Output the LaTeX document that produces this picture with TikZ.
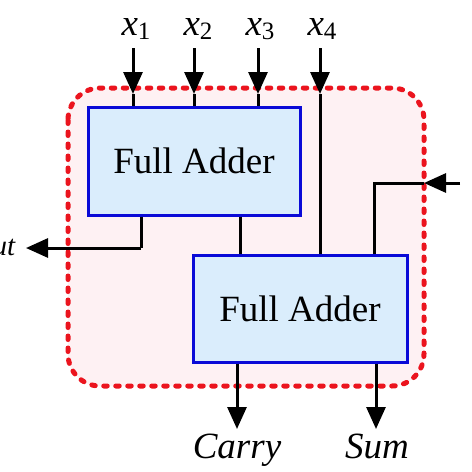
\documentclass[tikz,border=0pt]{standalone}
\usepackage{fontspec}
\setmainfont{Liberation Serif}
\usetikzlibrary{arrows.meta}
\definecolor{boxfill}{RGB}{218,237,252}
\definecolor{boxline}{RGB}{10,10,215}
\definecolor{bgpink}{RGB}{254,241,243}
\definecolor{dashred}{RGB}{235,20,30}
\newcommand\lbl[3][25]{\textit{#2}\raisebox{-0.12em}{\fontsize{#1}{#1}\selectfont #3}}
\tikzset{
  fabox/.style={draw=boxline, line width=3pt, fill=boxfill, inner sep=0pt,
    font=\fontsize{37}{40}\selectfont},
  wire/.style={line width=3pt, black},
  arr/.style={wire, -{Triangle[length=22pt,width=19pt]}},
  lab/.style={inner sep=0pt, font=\fontsize{37}{40}\selectfont},
}
\begin{document}
\begin{tikzpicture}[x=1pt,y=-1pt]
\useasboundingbox (0,0) rectangle (472,472);
\fill[white] (0,0) rectangle (472,472);
% dashed region
\draw[dashred, fill=bgpink, line width=5pt, line cap=round,
  dash pattern=on 3.5pt off 8.5pt, rounded corners=32pt]
  (68,88) rectangle (424,386);
% boxes
\node[fabox, minimum width=212pt, minimum height=108pt] (fa1) at (194,161) {Full Adder};
\node[fabox, minimum width=214pt, minimum height=107pt] (fa2) at (300,308.5) {Full Adder};
% input labels
\node[lab, anchor=base] (l1) at (136,35) {\lbl{x}{1}};
\node[lab, anchor=base] (l2) at (198,35) {\lbl{x}{2}};
\node[lab, anchor=base] (l3) at (260,35) {\lbl{x}{3}};
\node[lab, anchor=base] (l4) at (322,35) {\lbl{x}{4}};
% input wires
\coordinate (s1) at (133,48); \coordinate (t1) at (133,94);
\coordinate (s2) at (194,48); \coordinate (t2) at (194,94);
\coordinate (s3) at (258,48); \coordinate (t3) at (258,94);
\coordinate (s4) at (320,48); \coordinate (t4) at (320,94);
\draw[arr] (s1) -- (t1); \draw[wire] (t1) -- (t1 |- fa1.north);
\draw[arr] (s2) -- (t2); \draw[wire] (t2) -- (t2 |- fa1.north);
\draw[arr] (s3) -- (t3); \draw[wire] (t3) -- (t3 |- fa1.north);
\draw[arr] (s4) -- (t4); \draw[wire] (t4) -- (t4 |- fa2.north);
% between adders
\coordinate (m) at (240,0);
\draw[wire] (m |- fa1.south) -- (m |- fa2.north);
% carry out
\coordinate (co1) at (141,248);
\coordinate (cot) at (26,248);
\draw[wire] (co1 |- fa1.south) -- (co1);
\draw[arr] (co1) -- (cot);
\node[lab, anchor=base east] (cout) at (16,251) {\lbl[29]{C}{\textit{out}}};
% right input
\coordinate (ri) at (460,183);
\coordinate (rt) at (424,183);
\coordinate (rc) at (374,183);
\draw[arr] (ri) -- (rt);
\draw[wire] (rt) -- (rc) -- (rc |- fa2.north);
% outputs
\coordinate (ca) at (237,429);
\coordinate (su) at (376,429);
\draw[arr] (ca |- fa2.south) -- (ca);
\draw[arr] (su |- fa2.south) -- (su);
\node[lab, anchor=base] (carry) at (237,458) {\textit{Carry}};
\node[lab, anchor=base] (sum) at (377,458) {\textit{Sum}};
\end{tikzpicture}
\end{document}
